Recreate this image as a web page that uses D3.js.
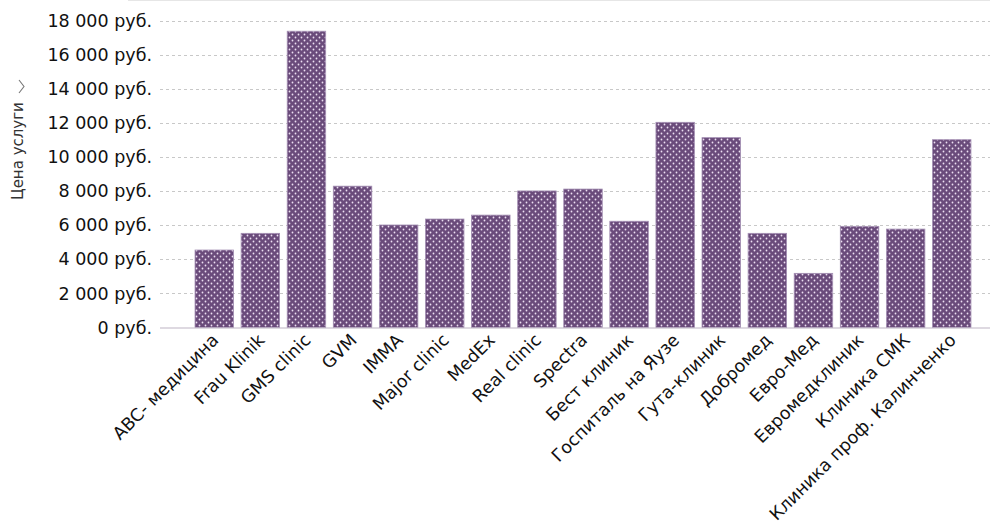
<!DOCTYPE html>
<html>
<head>
<meta charset="utf-8">
<script src="https://cdn.jsdelivr.net/npm/d3@7"></script>
<style>
  body { margin: 0; background: #fff; }
  svg { display: block; }
</style>
</head>
<body>
<div id="chart-area"></div>
<script>
// clinic prices (rub.)
var clinics = ['ABC- медицина', 'Frau Klinik', 'GMS clinic', 'GVM', 'IMMA', 'Major clinic', 'MedEx',
               'Real clinic', 'Spectra', 'Бест клиник', 'Госпиталь на Яузе', 'Гута-клиник', 'Добромед',
               'Евро-Мед', 'Евромедклиник', 'Клиника СМК', 'Клиника проф. Калинченко'];
var prices = [4550, 5530, 17400, 8300, 6020, 6370, 6600, 8020, 8130, 6240, 12050, 11150, 5530,
              3180, 5940, 5780, 11030];
var yTicks = [0, 2000, 4000, 6000, 8000, 10000, 12000, 14000, 16000, 18000];

var outerWidth = 990;
var outerHeight = 527;

var svg = d3.select('#chart-area').append('svg')
            .attr('width', outerWidth)
            .attr('height', outerHeight);

// dotted fill for the bars
var pattern = svg.append('defs').append('pattern')
                 .attr('id', 'dots')
                 .attr('patternUnits', 'userSpaceOnUse')
                 .attr('width', 6)
                 .attr('height', 6);
pattern.append('rect').attr('width', 6).attr('height', 6).attr('fill', '#6a4b7b');
pattern.append('circle').attr('cx', 1.5).attr('cy', 1.5).attr('r', 0.9).attr('fill', '#ecdff2');
pattern.append('circle').attr('cx', 4.5).attr('cy', 4.5).attr('r', 0.9).attr('fill', '#ecdff2');

var xScale = d3.scaleBand()
               .domain(clinics)
               .range([160, 1006])
               .paddingInner(0.165)
               .paddingOuter(0.76);
var yScale = d3.scaleLinear()
               .domain([0, 18000])
               .range([327.5, 21]);

var fmt = function(d){ return d3.format(',')(d).replace(/,/g, ' ') + ' руб.'; };

// top frame line
svg.append('line')
   .attr('x1', 128).attr('x2', outerWidth)
   .attr('y1', 0.5).attr('y2', 0.5)
   .attr('stroke', '#e6e6e6');

// gridlines
svg.append('g').selectAll('line')
   .data(yTicks.filter(function(d){ return d > 0; }))
   .enter().append('line')
   .attr('x1', 160).attr('x2', outerWidth)
   .attr('y1', function(d){ return Math.round(yScale(d)) + 0.5; })
   .attr('y2', function(d){ return Math.round(yScale(d)) + 0.5; })
   .attr('stroke', '#c8c8c8')
   .attr('stroke-dasharray', '3,3');

// y axis labels
var yAxis = d3.axisLeft(yScale)
              .tickValues(yTicks)
              .tickFormat(fmt)
              .tickSize(0)
              .tickPadding(8);
var yAxisG = svg.append('g')
                .attr('transform', 'translate(160,0)')
                .call(yAxis);
yAxisG.select('.domain').remove();
yAxisG.selectAll('text')
      .attr('font-family', 'DejaVu Sans, Verdana, sans-serif')
      .attr('font-size', '17.5px')
      .attr('fill', '#111');

// bars
svg.append('g').selectAll('rect')
   .data(prices)
   .enter().append('rect')
   .attr('x', function(d, i){ return xScale(clinics[i]); })
   .attr('y', function(d){ return yScale(d); })
   .attr('width', xScale.bandwidth())
   .attr('height', function(d){ return yScale(0) - yScale(d); })
   .attr('fill', 'url(#dots)')
   .attr('stroke', '#a48fb3')
   .attr('stroke-width', 0.8);

// baseline
svg.append('line')
   .attr('x1', 160).attr('x2', outerWidth)
   .attr('y1', 328).attr('y2', 328)
   .attr('stroke', '#bdb4c4')
   .attr('stroke-width', 1.2);

// x labels
var xAxis = d3.axisBottom(xScale).tickSize(0).tickPadding(0);
var xAxisG = svg.append('g')
                .attr('transform', 'translate(0,328)')
                .call(xAxis);
xAxisG.select('.domain').remove();
xAxisG.selectAll('text')
      .attr('font-family', 'DejaVu Sans, Verdana, sans-serif')
      .attr('font-size', '17.5px')
      .attr('fill', '#111')
      .attr('text-anchor', 'end')
      .attr('dy', '0.75em')
      .attr('transform', 'translate(-4,4) rotate(-45)');

// y title
var yLabelG = svg.append('g')
                 .attr('transform', 'translate(23,200) rotate(-90)');
yLabelG.append('text')
       .attr('x', 0).attr('y', 0)
       .attr('font-family', 'DejaVu Sans, Verdana, sans-serif')
       .attr('font-size', '15px')
       .attr('fill', '#333')
       .text('Цена услуги');
yLabelG.append('path')
       .attr('d', 'M107,-4 L113.5,1 L120,-4')
       .attr('fill', 'none')
       .attr('stroke', '#777')
       .attr('stroke-width', 1.1);
</script>
</body>
</html>
